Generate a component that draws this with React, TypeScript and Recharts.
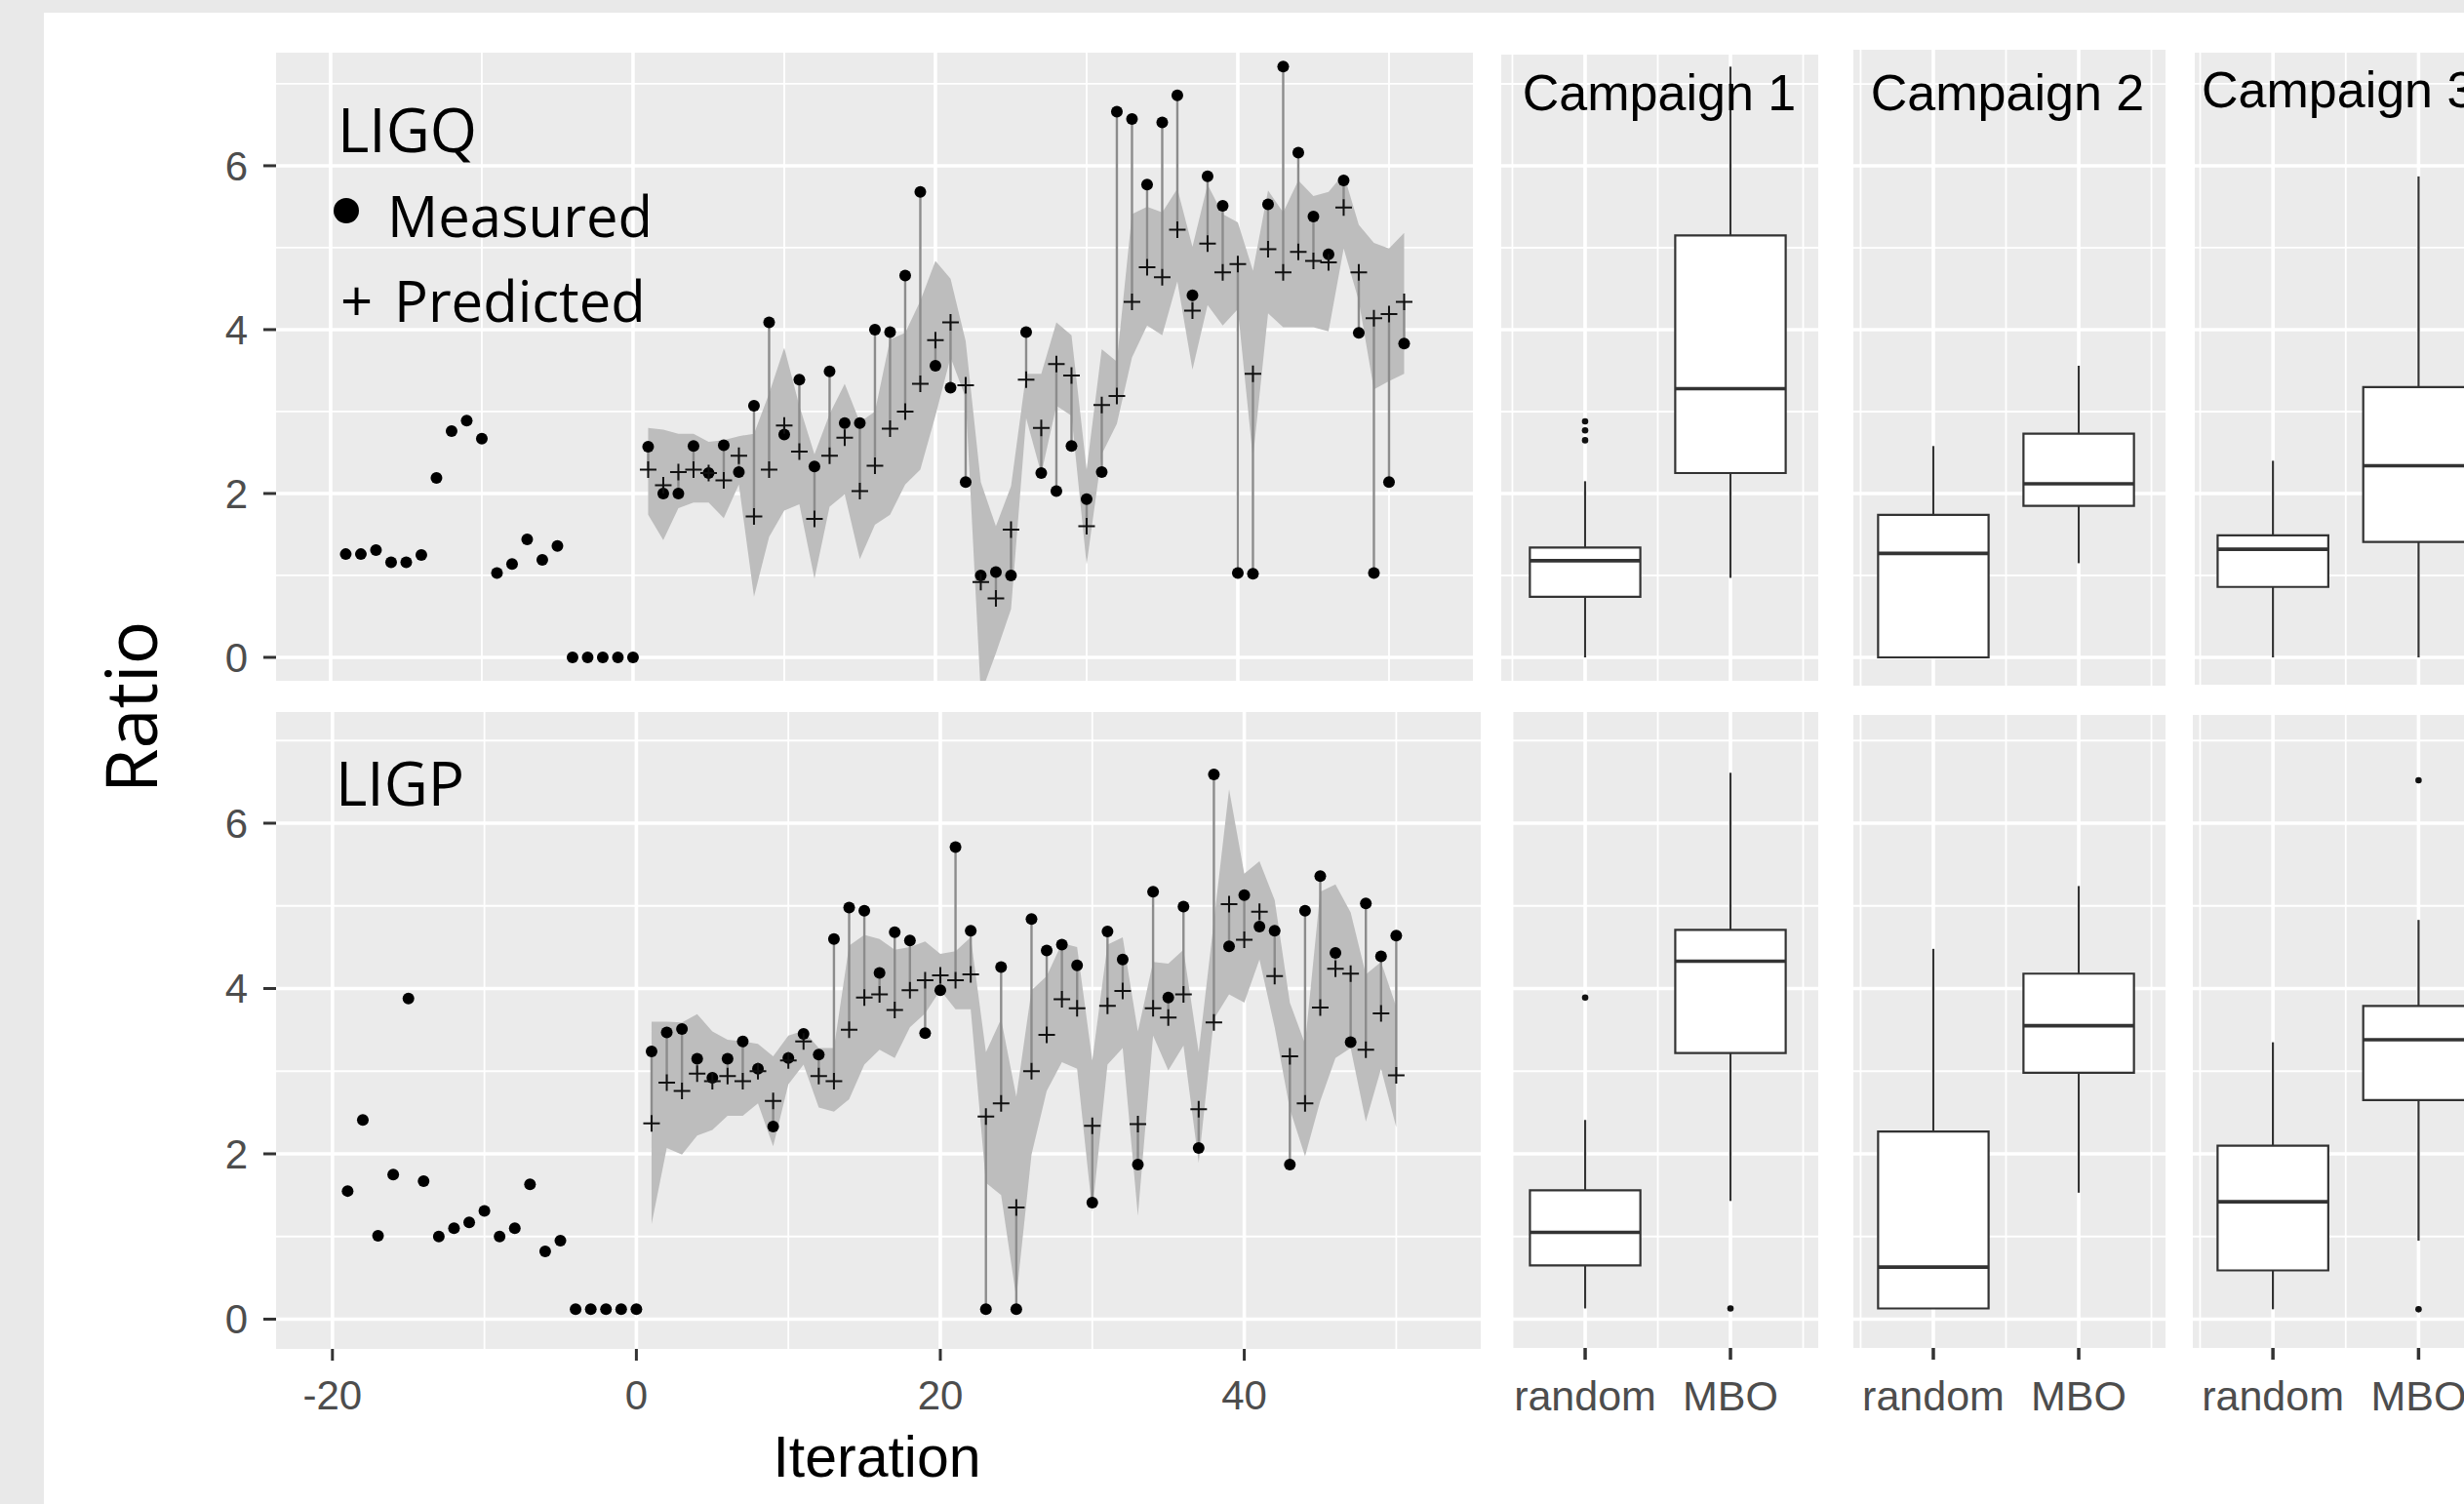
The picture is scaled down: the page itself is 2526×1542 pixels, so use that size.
import React from "react";
import {
  ComposedChart,
  Area,
  Scatter,
  XAxis,
  YAxis,
  CartesianGrid,
  ReferenceLine,
  ReferenceArea,
} from "recharts";

const FONT = "'Liberation Sans', Arial, sans-serif";
const HUMAN = "'Open Sans', 'Noto Sans', sans-serif";

// warm-up iterations -19..0 (measured only)
const preLIGQ = [1.26, 1.26, 1.31, 1.16, 1.16, 1.25, 2.19, 2.76, 2.89, 2.67, 1.03, 1.14, 1.44, 1.19, 1.36, 0, 0, 0, 0, 0];
const preLIGP = [1.55, 2.41, 1.01, 1.75, 3.88, 1.67, 1.0, 1.1, 1.17, 1.31, 1.0, 1.1, 1.63, 0.82, 0.95, 0.12, 0.12, 0.12, 0.12, 0.12];

// LIGQ, iterations 1..51
const measLIGQ = [2.57, 2.0, 2.0, 2.58, 2.25, 2.59, 2.26, 3.07, 4.09, 2.72, 3.39, 2.33, 3.49, 2.86, 2.86, 4.0, 3.97, 4.66, 5.68, 3.56, 3.29, 2.14, 1.0, 1.04, 1.0, 3.97, 2.25, 2.03, 2.58, 1.93, 2.26, 6.66, 6.57, 5.77, 6.53, 6.86, 4.42, 5.87, 5.51, 1.03, 1.02, 5.53, 7.21, 6.16, 5.38, 4.92, 5.82, 3.96, 1.03, 2.14, 3.83];
const predLIGQ = [2.29, 2.1, 2.26, 2.29, 2.25, 2.16, 2.46, 1.72, 2.29, 2.83, 2.51, 1.69, 2.46, 2.68, 2.03, 2.34, 2.79, 3.0, 3.34, 3.87, 4.09, 3.32, 0.92, 0.72, 1.56, 3.39, 2.8, 3.58, 3.44, 1.6, 3.08, 3.19, 4.34, 4.76, 4.64, 5.22, 4.23, 5.05, 4.7, 4.8, 3.46, 4.98, 4.7, 4.95, 4.84, 4.82, 5.49, 4.7, 4.14, 4.19, 4.34];
const lowLIGQ = [1.74, 1.43, 1.82, 1.89, 1.89, 1.7, 2.11, 0.74, 1.47, 1.79, 1.87, 0.96, 1.84, 1.99, 1.2, 1.62, 1.74, 2.11, 2.29, 2.95, 3.66, 3.17, -0.45, 0.05, 0.59, 2.92, 2.24, 3.07, 2.95, 1.13, 2.48, 2.85, 3.66, 4.05, 3.93, 4.59, 3.51, 4.3, 4.05, 4.25, 2.43, 4.2, 4.03, 4.03, 4.03, 3.98, 4.99, 4.35, 3.27, 3.37, 3.46];
const highLIGQ = [2.8, 2.78, 2.73, 2.73, 2.63, 2.65, 2.7, 2.73, 3.22, 3.78, 3.07, 2.48, 2.97, 3.34, 2.87, 3.0, 3.88, 3.96, 4.35, 4.84, 4.62, 3.86, 2.14, 1.6, 2.09, 3.46, 3.46, 4.09, 3.93, 2.29, 3.76, 3.61, 5.41, 5.5, 5.43, 5.72, 5.01, 5.77, 5.41, 5.31, 4.72, 5.7, 5.43, 5.82, 5.63, 5.68, 5.9, 5.28, 5.06, 4.99, 5.18];

// LIGP, iterations 1..50
const measLIGP = [3.24, 3.47, 3.51, 3.15, 2.92, 3.15, 3.36, 3.03, 2.33, 3.16, 3.45, 3.2, 4.6, 4.98, 4.94, 4.19, 4.68, 4.58, 3.46, 3.98, 5.71, 4.7, 0.12, 4.26, 0.12, 4.84, 4.46, 4.53, 4.28, 1.41, 4.69, 4.35, 1.87, 5.17, 3.89, 4.99, 2.07, 6.59, 4.51, 5.13, 4.75, 4.7, 1.87, 4.94, 5.36, 4.43, 3.35, 5.03, 4.39, 4.64];
const predLIGP = [2.37, 2.86, 2.76, 2.97, 2.88, 2.94, 2.88, 3.0, 2.64, 3.13, 3.36, 2.94, 2.88, 3.5, 3.89, 3.93, 3.74, 3.98, 4.1, 4.16, 4.1, 4.17, 2.45, 2.61, 1.35, 3.0, 3.44, 3.87, 3.76, 2.34, 3.79, 3.97, 2.36, 3.76, 3.65, 3.93, 2.54, 3.59, 5.02, 4.59, 4.93, 4.15, 3.18, 2.61, 3.77, 4.24, 4.18, 3.26, 3.7, 2.95];
const lowLIGP = [1.15, 2.07, 1.99, 2.22, 2.29, 2.46, 2.46, 2.61, 2.09, 2.84, 3.08, 2.56, 2.51, 2.66, 3.08, 3.26, 3.16, 3.53, 3.7, 3.98, 3.75, 3.75, 1.65, 1.5, 0.26, 1.99, 2.76, 3.11, 3.03, 1.3, 3.08, 3.28, 1.25, 3.43, 3.01, 3.31, 1.89, 3.63, 3.93, 3.83, 4.35, 3.53, 2.54, 1.97, 2.64, 3.16, 3.28, 2.39, 3.03, 2.32];
const highLIGP = [3.6, 3.6, 3.59, 3.69, 3.48, 3.38, 3.36, 3.33, 3.18, 3.43, 3.49, 3.28, 3.28, 4.52, 4.65, 4.6, 4.47, 4.5, 4.57, 4.42, 4.45, 4.62, 3.23, 3.63, 2.69, 3.98, 4.15, 4.55, 4.5, 3.13, 4.53, 4.62, 3.48, 4.32, 4.3, 4.47, 3.23, 4.81, 6.41, 5.39, 5.54, 5.07, 3.83, 3.33, 5.17, 5.26, 4.92, 4.17, 4.32, 3.78];

// boxplots: [lower whisker, Q1, median, Q3, upper whisker] per campaign
const campaigns = ["Campaign 1", "Campaign 2", "Campaign 3"];
const methods = ["random", "MBO"];
const ligqRandom = [[0, 0.74, 1.18, 1.34, 2.15], [0, 0, 1.27, 1.74, 2.58], [0, 0.86, 1.32, 1.49, 2.4]];
const ligqMBO = [[0.97, 2.25, 3.28, 5.15, 7.21], [1.15, 1.85, 2.12, 2.73, 3.56], [0, 1.41, 2.34, 3.3, 5.87]];
const ligpRandom = [[0.13, 0.65, 1.05, 1.56, 2.41], [0.13, 0.13, 0.63, 2.27, 4.48], [0.12, 0.59, 1.42, 2.1, 3.35]];
const ligpMBO = [[1.43, 3.22, 4.33, 4.71, 6.61], [1.53, 2.98, 3.55, 4.18, 5.24], [0.95, 2.65, 3.38, 3.79, 4.83]];
const ligqRandomOut = [[2.65, 2.77, 2.88], [], []];
const ligqMBOOut = [[], [], []];
const ligpRandomOut = [[3.89], [], []];
const ligpMBOOut = [[0.13], [], [6.52, 0.12]];

const yTicks = [0, 2, 4, 6];
const yMinor = [1, 3, 5, 7];
const xTicks = [-20, 0, 20, 40];
const xMinor = [-10, 10, 30, 50];

const PANEL = "#ebebeb";
const dark = "#333333";
const tickText = { fill: "#4d4d4d", fontSize: 42, fontFamily: FONT };

const Dot = (p: any) => <circle cx={p.cx} cy={p.cy} r={6} fill="#000" />;
const Plus = (p: any) => (
  <path
    d={`M${p.cx - 8.5},${p.cy}H${p.cx + 8.5}M${p.cx},${p.cy - 8.5}V${p.cy + 8.5}`}
    stroke="#111"
    strokeWidth={2}
    fill="none"
  />
);
const Small = (p: any) => <circle cx={p.cx} cy={p.cy} r={3.3} fill="#111" />;

function SeriesPanel(props: any) {
  const { left, top, width, plotH, xDom, yDom, pre, meas, pred, lo, hi, showX } = props;
  const XH = 110;
  const band = meas.map((_: number, i: number) => ({ it: i + 1, band: [lo[i], hi[i]] }));
  const measured = [
    ...pre.map((v: number, i: number) => ({ it: i - 19, y: v })),
    ...meas.map((v: number, i: number) => ({ it: i + 1, y: v })),
  ];
  const predicted = pred.map((v: number, i: number) => ({ it: i + 1, y: v }));
  return (
    <div style={{ position: "absolute", left, top }}>
      <ComposedChart
        width={width + 30}
        height={plotH + (showX ? XH : 0)}
        data={band}
        margin={{ top: 0, right: 30, bottom: 0, left: 0 }}
      >
        <CartesianGrid
          fill={PANEL}
          fillOpacity={1}
          stroke="#fff"
          strokeWidth={1.8}
          horizontalValues={yMinor}
          verticalValues={xMinor}
        />
        <CartesianGrid stroke="#fff" strokeWidth={3.6} horizontalValues={yTicks} verticalValues={xTicks} />
        <XAxis
          type="number"
          dataKey="it"
          domain={xDom}
          allowDataOverflow
          ticks={xTicks}
          interval={0}
          hide={!showX}
          height={XH}
          axisLine={false}
          tickLine={{ stroke: dark, strokeWidth: 3 }}
          tickSize={12}
          tickMargin={20}
          tick={tickText}
        />
        <YAxis
          type="number"
          dataKey="y"
          domain={yDom}
          allowDataOverflow
          ticks={yTicks}
          interval={0}
          width={100}
          axisLine={false}
          tickLine={{ stroke: dark, strokeWidth: 3 }}
          tickSize={13}
          tickMargin={16}
          tick={tickText}
        />
        <Area
          dataKey="band"
          type="linear"
          stroke="none"
          fill="#bdbdbd"
          fillOpacity={1}
          isAnimationActive={false}
          activeDot={false}
          dot={false}
        />
        {pred.map((p: number, i: number) => (
          <ReferenceLine
            key={"s" + i}
            segment={[
              { x: i + 1, y: p },
              { x: i + 1, y: meas[i] },
            ]}
            stroke="#8c8c8c"
            strokeWidth={2.4}
            ifOverflow="hidden"
          />
        ))}
        <Scatter data={measured} shape={Dot} isAnimationActive={false} />
        <Scatter data={predicted} shape={Plus} isAnimationActive={false} />
      </ComposedChart>
    </div>
  );
}

function BoxPanel(props: any) {
  const { left, top, width, plotH, xDom, yDom, random, mbo, randomOut, mboOut, showX } = props;
  const XH = 110;
  const PAD = 45;
  const stats = [random, mbo];
  const outs = [
    ...randomOut.map((v: number) => ({ x: 1, y: v })),
    ...mboOut.map((v: number) => ({ x: 2, y: v })),
  ];
  const hw = 0.38;
  return (
    <div style={{ position: "absolute", left: left - PAD, top }}>
      <ComposedChart
        width={width + 2 * PAD}
        height={plotH + (showX ? XH : 0)}
        margin={{ top: 0, right: PAD, bottom: 0, left: PAD }}
      >
        <CartesianGrid
          fill={PANEL}
          fillOpacity={1}
          stroke="#fff"
          strokeWidth={1.8}
          horizontalValues={yMinor}
          verticalValues={[0.5, 1.5, 2.5]}
        />
        <CartesianGrid stroke="#fff" strokeWidth={3.6} horizontalValues={yTicks} verticalValues={[1, 2]} />
        <XAxis
          type="number"
          dataKey="x"
          domain={xDom}
          allowDataOverflow
          ticks={[1, 2]}
          interval={0}
          tickFormatter={(v: number) => methods[v - 1]}
          hide={!showX}
          height={XH}
          axisLine={false}
          tickLine={{ stroke: dark, strokeWidth: 3.5 }}
          tickSize={12}
          tickMargin={21}
          tick={{ ...tickText, fontSize: 43 }}
        />
        <YAxis type="number" dataKey="y" domain={yDom} allowDataOverflow hide />
        {stats.map((s: number[], k: number) => {
          const x = k + 1;
          return [
            <ReferenceLine
              key={"wl" + k}
              segment={[{ x, y: s[0] }, { x, y: s[1] }]}
              stroke={dark}
              strokeWidth={2.2}
              ifOverflow="hidden"
            />,
            <ReferenceLine
              key={"wh" + k}
              segment={[{ x, y: s[3] }, { x, y: s[4] }]}
              stroke={dark}
              strokeWidth={2.2}
              ifOverflow="hidden"
            />,
            <ReferenceArea
              key={"b" + k}
              x1={x - hw}
              x2={x + hw}
              y1={s[1]}
              y2={s[3]}
              fill="#fff"
              fillOpacity={1}
              stroke={dark}
              strokeWidth={2.2}
              ifOverflow="hidden"
            />,
            <ReferenceLine
              key={"m" + k}
              segment={[{ x: x - hw, y: s[2] }, { x: x + hw, y: s[2] }]}
              stroke={dark}
              strokeWidth={3.6}
              ifOverflow="hidden"
            />,
          ];
        })}
        <Scatter data={outs} shape={Small} isAnimationActive={false} />
      </ComposedChart>
    </div>
  );
}

const boxCols = [
  { top: { left: 1539, top: 56, width: 325, plotH: 642, xDom: [0.423, 2.604], yDom: [-0.286, 7.357] },
    bot: { left: 1551, top: 730, width: 313, plotH: 652, xDom: [0.503, 2.604], yDom: [-0.348, 7.345] } },
  { top: { left: 1900, top: 51, width: 320, plotH: 652, xDom: [0.45, 2.597], yDom: [-0.345, 7.417] },
    bot: { left: 1900, top: 733, width: 320, plotH: 649, xDom: [0.45, 2.597], yDom: [-0.348, 7.31] } },
  { top: { left: 2250, top: 54, width: 276, plotH: 648, xDom: [0.463, 2.312], yDom: [-0.333, 7.38] },
    bot: { left: 2248, top: 733, width: 278, plotH: 649, xDom: [0.45, 2.312], yDom: [-0.348, 7.31] } },
];

const titleX = [1701, 2058, 2257];

export default function App() {
  return (
    <div
      style={{
        position: "absolute",
        left: 0,
        top: 0,
        width: 2526,
        height: 1542,
        background: "#fff",
        overflow: "hidden",
      }}
    >
      <div style={{ position: "absolute", left: 0, top: 0, width: 2526, height: 13, background: "#e9e9e9" }} />
      <div style={{ position: "absolute", left: 0, top: 0, width: 45, height: 1542, background: "#e9e9e9" }} />

      <SeriesPanel
        left={183}
        top={54}
        width={1327}
        plotH={644}
        xDom={[-23.61, 55.55]}
        yDom={[-0.286, 7.38]}
        pre={preLIGQ}
        meas={measLIGQ}
        pred={predLIGQ}
        lo={lowLIGQ}
        hi={highLIGQ}
        showX={false}
      />
      <SeriesPanel
        left={183}
        top={730}
        width={1335}
        plotH={653}
        xDom={[-23.71, 55.56]}
        yDom={[-0.36, 7.345]}
        pre={preLIGP}
        meas={measLIGP}
        pred={predLIGP}
        lo={lowLIGP}
        hi={highLIGP}
        showX={true}
      />

      {boxCols.map((c, k) => (
        <React.Fragment key={k}>
          <BoxPanel
            {...c.top}
            random={ligqRandom[k]}
            mbo={ligqMBO[k]}
            randomOut={ligqRandomOut[k]}
            mboOut={ligqMBOOut[k]}
            showX={false}
          />
          <BoxPanel
            {...c.bot}
            random={ligpRandom[k]}
            mbo={ligpMBO[k]}
            randomOut={ligpRandomOut[k]}
            mboOut={ligpMBOOut[k]}
            showX={true}
          />
        </React.Fragment>
      ))}

      <svg
        width={2526}
        height={1542}
        style={{ position: "absolute", left: 0, top: 0, pointerEvents: "none" }}
      >
        <text x={0} y={0} transform="translate(161,725) rotate(-90)" textAnchor="middle" fontSize={74} fontFamily={HUMAN} fill="#000">
          Ratio
        </text>
        <text x={899} y={1514} textAnchor="middle" fontSize={59} fontFamily={FONT} fill="#000">
          Iteration
        </text>
        <text x={346} y={156} fontSize={62} fontFamily={HUMAN} fill="#000">LIGQ</text>
        <circle cx={355} cy={216} r={13} fill="#000" />
        <text x={397} y={243} fontSize={58} fontFamily={HUMAN} fill="#000">Measured</text>
        <text x={349} y={330} fontSize={58} fontFamily={HUMAN} fill="#000">+</text>
        <text x={404} y={330} fontSize={58} fontFamily={HUMAN} fill="#000">Predicted</text>
        <text x={344} y={826} fontSize={62} fontFamily={HUMAN} fill="#000">LIGP</text>
        {campaigns.map((c, k) => (
          <text
            key={c}
            x={titleX[k]}
            y={k === 2 ? 110 : 113}
            textAnchor={k === 2 ? "start" : "middle"}
            fontSize={52}
            fontFamily={FONT}
            fill="#000"
          >
            {c}
          </text>
        ))}
      </svg>
    </div>
  );
}
